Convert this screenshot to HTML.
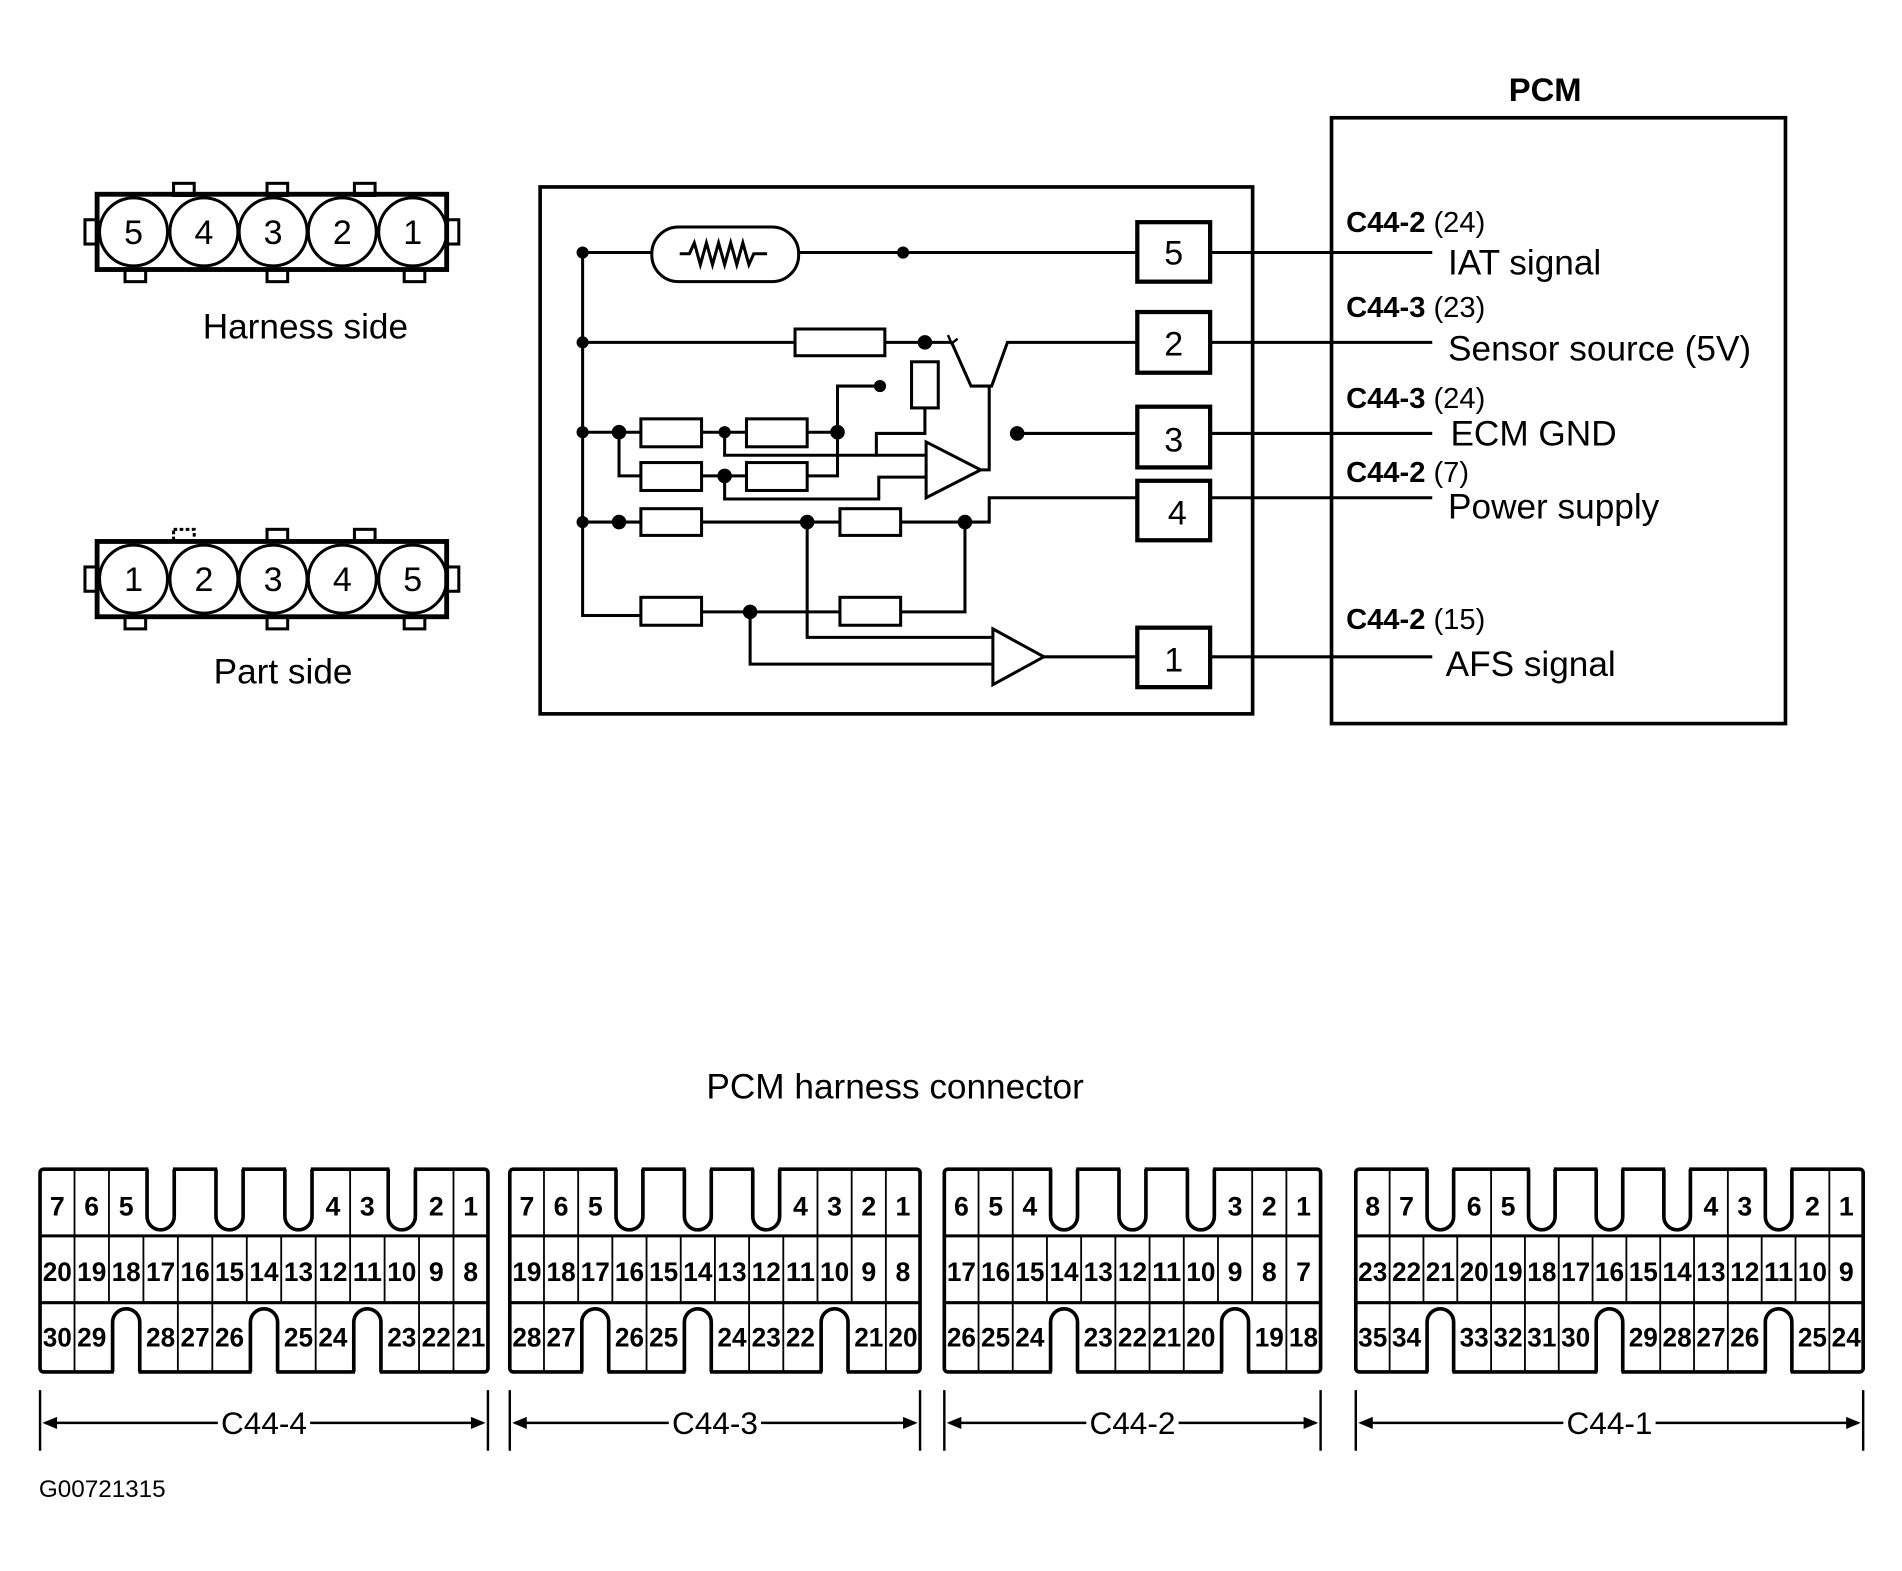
<!DOCTYPE html>
<html><head><meta charset="utf-8"><style>
html,body{margin:0;padding:0;background:#fff;}
svg{display:block;}
text{font-family:"Liberation Sans",Arial,sans-serif;fill:#000;}
</style></head><body>
<svg id="s" width="1902" height="1571" viewBox="0 0 1567 1294" preserveAspectRatio="none" xmlns="http://www.w3.org/2000/svg">
<rect width="1567" height="1294" fill="#fff"/>
<g fill="none" stroke="#000" stroke-width="2.5">
<rect x="143" y="151" width="17" height="10"/><rect x="220" y="151" width="17" height="10"/><rect x="292" y="151" width="17" height="10"/>
<rect x="103" y="222" width="17" height="10"/><rect x="220" y="222" width="17" height="10"/><rect x="333" y="222" width="17" height="10"/>
<rect x="70" y="181" width="10" height="20"/><rect x="368" y="181" width="10" height="20"/>
<rect x="80" y="160" width="288" height="62" stroke-width="4"/>
<circle cx="110" cy="191" r="28"/><circle cx="168" cy="191" r="28"/><circle cx="225" cy="191" r="28"/><circle cx="282" cy="191" r="28"/><circle cx="340" cy="191" r="28"/>
<rect x="143" y="436" width="17" height="10" stroke-dasharray="3 2"/><rect x="220" y="436" width="17" height="10"/><rect x="292" y="436" width="17" height="10"/>
<rect x="103" y="508" width="17" height="10"/><rect x="220" y="508" width="17" height="10"/><rect x="333" y="508" width="17" height="10"/>
<rect x="70" y="467" width="10" height="20"/><rect x="368" y="467" width="10" height="20"/>
<rect x="80" y="446" width="288" height="62" stroke-width="4"/>
<circle cx="110" cy="477" r="28"/><circle cx="168" cy="477" r="28"/><circle cx="225" cy="477" r="28"/><circle cx="282" cy="477" r="28"/><circle cx="340" cy="477" r="28"/>
<rect x="445" y="154" width="587" height="434" stroke-width="3"/>
<rect x="1097" y="97" width="374" height="499" stroke-width="3"/>
<rect x="937" y="183" width="60" height="49" stroke-width="3.5"/>
<rect x="937" y="257" width="60" height="50" stroke-width="3.5"/>
<rect x="937" y="335" width="60" height="50" stroke-width="3.5"/>
<rect x="937" y="396" width="60" height="49" stroke-width="3.5"/>
<rect x="937" y="517" width="60" height="49" stroke-width="3.5"/>
<path d="M997 208H1180M997 282H1180M997 357H1180M997 410H1180M997 541H1180"/>
<path d="M480 208V507H528M578 504H692M742 504H795V430"/>
<path d="M480 208H537M658 208H937"/>
<rect x="537" y="187" width="121" height="45" rx="22"/>
<path d="M560 209H568L572 200L577 218L582 200L587 218L592 200L597 218L602 200L607 218L612 200L617 218L621 209H632"/>
<path d="M480 282H655M729 282H784L800 318H817L830 282H937"/>
<path d="M781 276L784 283L789 279" stroke-width="2"/>
<rect x="655" y="271" width="74" height="22"/>
<rect x="751" y="298" width="22" height="38"/>
<path d="M762 336V357H722V375H763"/>
<path d="M480 356H528M578 356H615M665 356H690V318H725"/>
<path d="M510 356V392H528M578 392H615M665 392H690V356"/>
<path d="M597 356V375H722M597 392V411H724V393H763"/>
<rect x="528" y="345" width="50" height="23"/><rect x="615" y="345" width="50" height="23"/>
<rect x="528" y="381" width="50" height="23"/><rect x="615" y="381" width="50" height="23"/>
<path d="M763 364L808 387L763 410Z"/>
<path d="M808 387H815V318"/>
<path d="M838 357H937"/>
<path d="M480 430H528M578 430H692M742 430H815V410H937"/>
<rect x="528" y="419" width="50" height="22"/><rect x="692" y="419" width="50" height="22"/>
<rect x="528" y="492" width="50" height="23"/><rect x="692" y="492" width="50" height="23"/>
<path d="M665 430V525H818M618 504V547H818"/>
<path d="M818 518L860 541L818 564Z"/>
<path d="M860 541H937"/>
</g>
<g fill="#000">
<circle cx="480" cy="208" r="5"/><circle cx="744" cy="208" r="5"/>
<circle cx="480" cy="282" r="5"/><circle cx="762" cy="282" r="6"/>
<circle cx="725" cy="318" r="5"/>
<circle cx="480" cy="356" r="5"/><circle cx="510" cy="356" r="6"/><circle cx="597" cy="356" r="5"/><circle cx="690" cy="356" r="6"/>
<circle cx="597" cy="392" r="6"/>
<circle cx="838" cy="357" r="6"/>
<circle cx="480" cy="430" r="5"/><circle cx="510" cy="430" r="6"/><circle cx="665" cy="430" r="6"/><circle cx="795" cy="430" r="6"/>
<circle cx="618" cy="504" r="6"/>
</g>
<g font-size="28" text-anchor="middle">
<text x="110" y="201">5</text><text x="168" y="201">4</text><text x="225" y="201">3</text><text x="282" y="201">2</text><text x="340" y="201">1</text>
<text x="110" y="487">1</text><text x="168" y="487">2</text><text x="225" y="487">3</text><text x="282" y="487">4</text><text x="340" y="487">5</text>
<text x="967" y="218">5</text><text x="967" y="293">2</text><text x="967" y="372">3</text><text x="970" y="432">4</text><text x="967" y="553">1</text>
</g>
<g font-size="29">
<text x="167" y="279">Harness side</text>
<text x="176" y="563">Part side</text>
<text x="1193" y="226">IAT signal</text>
<text x="1193" y="297">Sensor source (5V)</text>
<text x="1195" y="367">ECM GND</text>
<text x="1193" y="427">Power supply</text>
<text x="1191" y="557">AFS signal</text>
<text x="582" y="905">PCM harness connector</text>
</g>
<text x="1243" y="83" font-size="27" font-weight="bold">PCM</text>
<g font-size="24">
<text x="1109" y="191"><tspan font-weight="bold">C44-2</tspan> (24)</text>
<text x="1109" y="261"><tspan font-weight="bold">C44-3</tspan> (23)</text>
<text x="1109" y="336"><tspan font-weight="bold">C44-3</tspan> (24)</text>
<text x="1109" y="397"><tspan font-weight="bold">C44-2</tspan> (7)</text>
<text x="1109" y="518"><tspan font-weight="bold">C44-2</tspan> (15)</text>
</g>
<text x="32" y="1233" font-size="20">G00721315</text>
<g id="conns"></g>
</svg>
<script>
var NS="http://www.w3.org/2000/svg";
var g=document.getElementById("conns");
function el(t,a,txt){var e=document.createElementNS(NS,t);for(var k in a)e.setAttribute(k,a[k]);if(txt!==undefined)e.textContent=txt;g.appendChild(e);return e;}
var T=963,R1=1018,R2=1073,B=1130;
var conns=[
 {x0:33,x1:402,name:"C44-4",top:["7","6","5","N","","N","","N","4","3","N","2","1"],mid:[20,19,18,17,16,15,14,13,12,11,10,9,8],bot:["30","29","N","28","27","26","N","25","24","N","23","22","21"]},
 {x0:420,x1:758,name:"C44-3",top:["7","6","5","N","","N","","N","4","3","2","1"],mid:[19,18,17,16,15,14,13,12,11,10,9,8],bot:["28","27","N","26","25","N","24","23","22","N","21","20"]},
 {x0:778,x1:1088,name:"C44-2",top:["6","5","4","N","","N","","N","3","2","1"],mid:[17,16,15,14,13,12,11,10,9,8,7],bot:["26","25","24","N","23","22","21","20","N","19","18"]},
 {x0:1117,x1:1535,name:"C44-1",top:["8","7","N","6","5","N","","N","","N","4","3","N","2","1"],mid:[23,22,21,20,19,18,17,16,15,14,13,12,11,10,9],bot:["35","34","N","33","32","31","30","N","29","28","27","26","N","25","24"]}
];
var S={fill:"none",stroke:"#000","stroke-width":"2.5"};
function st(a){var o={};for(var k in S)o[k]=S[k];for(var k in a)o[k]=a[k];return o;}
function num(x,y,s,w){var a={x:x,y:y,"font-size":"22","font-weight":"bold","text-anchor":"middle"};if(String(s).length>1){a.textLength=String(Math.min(w-3,24));a.lengthAdjust="spacingAndGlyphs";}el("text",a,String(s));}
conns.forEach(function(c){
 var n=c.mid.length,w=(c.x1-c.x0)/n;
 el("rect",st({x:c.x0,y:T,width:c.x1-c.x0,height:B-T,rx:3,"stroke-width":"3"}));
 el("path",st({d:"M"+c.x0+" "+R1+"H"+c.x1+"M"+c.x0+" "+R2+"H"+c.x1}));
 for(var i=1;i<n;i++){var x=c.x0+i*w;el("path",st({d:"M"+x+" "+R1+"V"+R2,"stroke-width":"1.5"}));}
 for(var i=1;i<n;i++){var a=c.top[i-1],b=c.top[i];if(a!=="N"&&b!=="N"&&a!==""&&b!==""){var x=c.x0+i*w;el("path",st({d:"M"+x+" "+T+"V"+R1,"stroke-width":"1.5"}));}}
 for(var i=1;i<n;i++){var a=c.bot[i-1],b=c.bot[i];if(a!=="N"&&b!=="N"){var x=c.x0+i*w;el("path",st({d:"M"+x+" "+R2+"V"+B,"stroke-width":"1.5"}));}}
 for(var i=0;i<n;i++){
  var cx=c.x0+i*w+w/2,l=c.x0+i*w+3,r=c.x0+(i+1)*w-3,rad=(r-l)/2;
  var t=c.top[i];
  if(t==="N"){el("rect",{x:l+1,y:T-3,width:r-l-2,height:6,fill:"#fff"});
   el("path",st({d:"M"+l+" "+T+"V"+(R1-5-rad)+"A"+rad+" "+rad+" 0 0 0 "+r+" "+(R1-5-rad)+"V"+T,"stroke-width":"3"}));}
  else if(t!==""){num(cx,1001,t,w);}
  num(cx,1055,c.mid[i],w);
  var b=c.bot[i];
  if(b==="N"){el("rect",{x:l+1,y:B-3,width:r-l-2,height:6,fill:"#fff"});
   el("path",st({d:"M"+l+" "+B+"V"+(R2+5+rad)+"A"+rad+" "+rad+" 0 0 1 "+r+" "+(R2+5+rad)+"V"+B,"stroke-width":"3"}));}
  else{num(cx,1109,b,w);}
 }
 var mx=(c.x0+c.x1)/2;
 el("path",st({d:"M"+c.x0+" 1145V1195M"+c.x1+" 1145V1195","stroke-width":"2"}));
 el("path",st({d:"M"+(c.x0+4)+" 1172H"+(mx-38)+"M"+(mx+38)+" 1172H"+(c.x1-4),"stroke-width":"2"}));
 el("path",{d:"M"+(c.x0+2)+" 1172l12 -5v10z",fill:"#000"});
 el("path",{d:"M"+(c.x1-2)+" 1172l-12 -5v10z",fill:"#000"});
 el("text",{x:mx,y:1181,"font-size":"26","text-anchor":"middle"},c.name);
});
</script>
</body></html>
